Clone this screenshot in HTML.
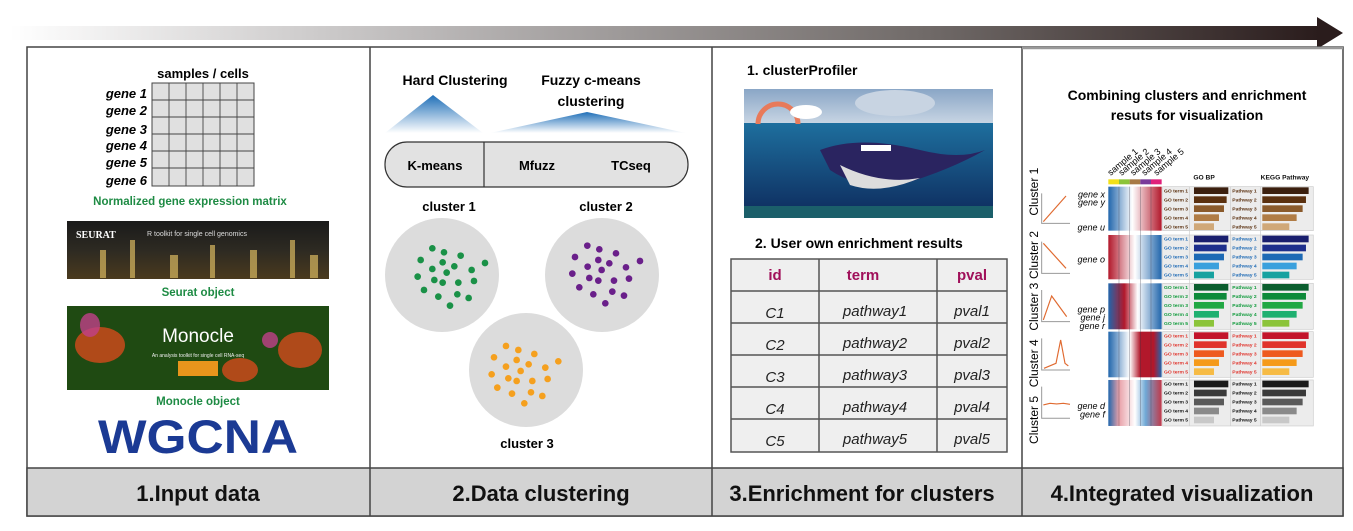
<!DOCTYPE html>
<html><head><meta charset="utf-8"><style>
html,body{margin:0;padding:0;background:#fff;}
svg{display:block;font-family:"Liberation Sans",Arial,sans-serif;}
</style></head><body>
<svg width="1353" height="531" viewBox="0 0 1353 531" xmlns="http://www.w3.org/2000/svg">
<defs>
<linearGradient id="arr" x1="0" x2="1" y1="0" y2="0"><stop offset="0" stop-color="#fff"/><stop offset="0.35" stop-color="#b4b1b1"/><stop offset="0.7" stop-color="#706a68"/><stop offset="1" stop-color="#2a1c1c"/></linearGradient>
<linearGradient id="tri" x1="0" x2="0" y1="0" y2="1"><stop offset="0" stop-color="#1f6fb8"/><stop offset="1" stop-color="#ffffff"/></linearGradient>
<linearGradient id="city" x1="0" x2="0" y1="0" y2="1"><stop offset="0" stop-color="#1a1a1a"/><stop offset="0.5" stop-color="#2d2a22"/><stop offset="1" stop-color="#4a3a1e"/></linearGradient>
<linearGradient id="sea" x1="0" x2="0" y1="0" y2="1"><stop offset="0" stop-color="#1e6f9e"/><stop offset="1" stop-color="#0d2a5c"/></linearGradient>
<linearGradient id="sky" x1="0" x2="0" y1="0" y2="1"><stop offset="0" stop-color="#8aa6c6"/><stop offset="1" stop-color="#c9d6e4"/></linearGradient>
<linearGradient id="h1" x1="0" x2="1"><stop offset="0" stop-color="#2166ac"/><stop offset="0.45" stop-color="#fff"/><stop offset="1" stop-color="#b2182b"/></linearGradient>
<linearGradient id="h2" x1="0" x2="1"><stop offset="0" stop-color="#b2182b"/><stop offset="0.5" stop-color="#fff"/><stop offset="1" stop-color="#2166ac"/></linearGradient>
<linearGradient id="h3" x1="0" x2="1"><stop offset="0" stop-color="#2166ac"/><stop offset="0.3" stop-color="#b2182b"/><stop offset="0.55" stop-color="#fff"/><stop offset="1" stop-color="#2166ac"/></linearGradient>
<linearGradient id="h4" x1="0" x2="1"><stop offset="0" stop-color="#2166ac"/><stop offset="0.4" stop-color="#fff"/><stop offset="0.6" stop-color="#b2182b"/><stop offset="0.85" stop-color="#b2182b"/><stop offset="1" stop-color="#2166ac"/></linearGradient>
<linearGradient id="h5" x1="0" x2="1"><stop offset="0" stop-color="#2166ac"/><stop offset="0.2" stop-color="#e8a0a8"/><stop offset="0.5" stop-color="#fff"/><stop offset="0.7" stop-color="#6fa8d6"/><stop offset="1" stop-color="#c0394a"/></linearGradient>
</defs>

<!-- top arrow -->
<rect x="10" y="26" width="1310" height="14" fill="url(#arr)"/>
<polygon points="1317,17 1343,33 1317,49" fill="#2a1c1c"/>

<!-- panels -->
<rect x="27" y="47" width="1316" height="469" fill="#fff" stroke="#444" stroke-width="1.5"/>
<rect x="27" y="468" width="1316" height="48" fill="#d3d3d3" stroke="#444" stroke-width="1.5"/>
<line x1="370" y1="47" x2="370" y2="516" stroke="#444" stroke-width="1.5"/>
<line x1="712" y1="47" x2="712" y2="516" stroke="#444" stroke-width="1.5"/>
<line x1="1022" y1="47" x2="1022" y2="516" stroke="#444" stroke-width="1.5"/>
<line x1="1022" y1="48" x2="1343" y2="48" stroke="#999" stroke-width="2.5"/>
<g font-size="22" font-weight="bold" text-anchor="middle" fill="#111">
<text x="198" y="501">1.Input data</text>
<text x="541" y="501">2.Data clustering</text>
<text x="862" y="501">3.Enrichment for clusters</text>
<text x="1182" y="501">4.Integrated visualization</text>
</g>

<!-- panel 1 -->
<text x="203" y="78" font-size="13" font-weight="bold" text-anchor="middle">samples / cells</text>
<rect x="152" y="83" width="102" height="103" fill="#e0e0e0" stroke="#444" stroke-width="1"/>
<g stroke="#444" stroke-width="0.9">
<line x1="169" y1="83" x2="169" y2="186"/><line x1="186" y1="83" x2="186" y2="186"/><line x1="203" y1="83" x2="203" y2="186"/><line x1="220" y1="83" x2="220" y2="186"/><line x1="237" y1="83" x2="237" y2="186"/>
<line x1="152" y1="100" x2="254" y2="100"/><line x1="152" y1="117" x2="254" y2="117"/><line x1="152" y1="134" x2="254" y2="134"/><line x1="152" y1="151" x2="254" y2="151"/><line x1="152" y1="168" x2="254" y2="168"/>
</g>
<g font-size="13" font-weight="bold" font-style="italic" text-anchor="end">
<text x="147" y="98">gene 1</text><text x="147" y="115">gene 2</text><text x="147" y="134">gene 3</text><text x="147" y="150">gene 4</text><text x="147" y="167">gene 5</text><text x="147" y="185">gene 6</text>
</g>
<text x="190" y="205" font-size="11.5" font-weight="bold" fill="#1e8b44" text-anchor="middle">Normalized gene expression matrix</text>
<rect x="67" y="221" width="262" height="58" fill="url(#city)"/>
<g fill="#d8b860" opacity="0.7"><rect x="100" y="250" width="6" height="28"/><rect x="130" y="240" width="5" height="38"/><rect x="170" y="255" width="8" height="23"/><rect x="210" y="245" width="5" height="33"/><rect x="250" y="250" width="7" height="28"/><rect x="290" y="240" width="5" height="38"/><rect x="310" y="255" width="8" height="23"/></g>
<text x="76" y="238" font-size="10" font-weight="bold" fill="#fff" font-family="Liberation Serif,serif">SEURAT</text>
<text x="147" y="236" font-size="7" fill="#ddd">R toolkit for single cell genomics</text>
<text x="198" y="296" font-size="11.5" font-weight="bold" fill="#1e8b44" text-anchor="middle">Seurat object</text>
<rect x="67" y="306" width="262" height="84" fill="#1f4a12"/>
<g fill="#d44a1c" opacity="0.8"><ellipse cx="100" cy="345" rx="25" ry="18"/><ellipse cx="300" cy="350" rx="22" ry="18"/><ellipse cx="240" cy="370" rx="18" ry="12"/></g>
<g fill="#c0408a" opacity="0.8"><ellipse cx="90" cy="325" rx="10" ry="12"/><ellipse cx="270" cy="340" rx="8" ry="8"/></g>
<text x="198" y="342" font-size="19" fill="#fff" text-anchor="middle">Monocle</text>
<text x="198" y="357" font-size="5" fill="#eee" text-anchor="middle">An analysis toolkit for single cell RNA-seq</text>
<rect x="178" y="361" width="40" height="15" fill="#e8951c"/>
<text x="198" y="405" font-size="11.5" font-weight="bold" fill="#1e8b44" text-anchor="middle">Monocle object</text>
<text x="198" y="453" font-size="47" font-weight="bold" fill="#1b3a94" text-anchor="middle" textLength="200" lengthAdjust="spacingAndGlyphs">WGCNA</text>

<!-- panel 2 -->
<g font-size="14" font-weight="bold" text-anchor="middle">
<text x="455" y="85">Hard Clustering</text>
<text x="591" y="85">Fuzzy c-means</text>
<text x="591" y="106">clustering</text>
</g>
<polygon points="433,95 385,133 483,133" fill="url(#tri)"/>
<polygon points="587,112 490,133 686,133" fill="url(#tri)"/>
<rect x="385" y="142" width="303" height="45" rx="22" fill="#e2e2e2" stroke="#333" stroke-width="1.2"/>
<line x1="484" y1="142" x2="484" y2="187" stroke="#333" stroke-width="1.2"/>
<g font-size="13" font-weight="bold" text-anchor="middle">
<text x="435" y="170">K-means</text><text x="537" y="170">Mfuzz</text><text x="631" y="170">TCseq</text>
<text x="449" y="211">cluster 1</text><text x="606" y="211">cluster 2</text><text x="527" y="448">cluster 3</text>
</g>
<circle cx="442" cy="275" r="57" fill="#dcdcdc"/>
<circle cx="602" cy="275" r="57" fill="#dcdcdc"/>
<circle cx="526" cy="370" r="57" fill="#dcdcdc"/>
<g transform="translate(370,60) scale(0.3333)">
<g fill="#1a9147">
<circle cx="187" cy="565" r="10"/><circle cx="222" cy="577" r="10"/><circle cx="272" cy="587" r="10"/><circle cx="152" cy="600" r="10"/><circle cx="218" cy="607" r="10"/><circle cx="345" cy="609" r="10"/><circle cx="187" cy="627" r="10"/><circle cx="253" cy="619" r="10"/><circle cx="305" cy="630" r="10"/><circle cx="230" cy="638" r="10"/><circle cx="143" cy="650" r="10"/><circle cx="193" cy="660" r="10"/><circle cx="218" cy="668" r="10"/><circle cx="265" cy="668" r="10"/><circle cx="312" cy="663" r="10"/><circle cx="162" cy="690" r="10"/><circle cx="262" cy="703" r="10"/><circle cx="205" cy="710" r="10"/><circle cx="296" cy="714" r="10"/><circle cx="240" cy="737" r="10"/>
</g>
<g fill="#6a1f8a">
<circle cx="652" cy="557" r="10"/><circle cx="688" cy="568" r="10"/><circle cx="738" cy="580" r="10"/><circle cx="615" cy="591" r="10"/><circle cx="685" cy="600" r="10"/><circle cx="718" cy="610" r="10"/><circle cx="810" cy="603" r="10"/><circle cx="653" cy="620" r="10"/><circle cx="695" cy="630" r="10"/><circle cx="768" cy="622" r="10"/><circle cx="607" cy="641" r="10"/><circle cx="658" cy="654" r="10"/><circle cx="685" cy="662" r="10"/><circle cx="732" cy="662" r="10"/><circle cx="777" cy="656" r="10"/><circle cx="628" cy="682" r="10"/><circle cx="670" cy="703" r="10"/><circle cx="727" cy="695" r="10"/><circle cx="762" cy="707" r="10"/><circle cx="706" cy="730" r="10"/>
</g>
<g fill="#f5a01e">
<circle cx="408" cy="858" r="10"/><circle cx="445" cy="870" r="10"/><circle cx="493" cy="882" r="10"/><circle cx="372" cy="892" r="10"/><circle cx="440" cy="900" r="10"/><circle cx="476" cy="913" r="10"/><circle cx="565" cy="904" r="10"/><circle cx="408" cy="920" r="10"/><circle cx="452" cy="933" r="10"/><circle cx="526" cy="923" r="10"/><circle cx="365" cy="943" r="10"/><circle cx="415" cy="955" r="10"/><circle cx="440" cy="963" r="10"/><circle cx="487" cy="963" r="10"/><circle cx="533" cy="957" r="10"/><circle cx="382" cy="983" r="10"/><circle cx="426" cy="1001" r="10"/><circle cx="483" cy="997" r="10"/><circle cx="517" cy="1008" r="10"/><circle cx="463" cy="1030" r="10"/>
</g>
</g>

<!-- panel 3 -->
<text x="747" y="75" font-size="14" font-weight="bold">1. clusterProfiler</text>
<rect x="744" y="89" width="249" height="35" fill="url(#sky)"/>
<rect x="744" y="123" width="249" height="95" fill="url(#sea)"/>
<path d="M758,124 A20,20 0 0 1 798,124" fill="none" stroke="#e87a5a" stroke-width="5"/>
<ellipse cx="806" cy="112" rx="16" ry="7" fill="#fff"/>
<ellipse cx="895" cy="103" rx="40" ry="13" fill="#c8d4e2"/>
<path d="M820,150 Q860,135 920,150 Q960,160 985,150 Q950,170 900,185 Q860,190 830,170 Z" fill="#2a2460"/>
<path d="M840,165 Q880,185 920,178 Q880,195 850,185 Z" fill="#ddd"/>
<rect x="861" y="145" width="30" height="6" fill="#fff"/>
<rect x="744" y="206" width="249" height="12" fill="#1b5f6a"/>
<text x="755" y="248" font-size="14" font-weight="bold">2. User own enrichment results</text>
<rect x="731" y="259" width="276" height="193" fill="#efefef" stroke="#555" stroke-width="1.5"/>
<g stroke="#555" stroke-width="1.5">
<line x1="819" y1="259" x2="819" y2="452"/><line x1="937" y1="259" x2="937" y2="452"/>
<line x1="731" y1="291" x2="1007" y2="291"/><line x1="731" y1="323" x2="1007" y2="323"/><line x1="731" y1="355" x2="1007" y2="355"/><line x1="731" y1="387" x2="1007" y2="387"/><line x1="731" y1="419" x2="1007" y2="419"/>
</g>
<g font-size="15" font-weight="bold" fill="#a0105a" text-anchor="middle">
<text x="775" y="280">id</text><text x="863" y="280">term</text><text x="972" y="280">pval</text>
</g>
<g font-size="15" font-style="italic" text-anchor="middle" fill="#222">
<text x="775" y="318">C1</text><text x="875" y="316">pathway1</text><text x="972" y="316">pval1</text>
<text x="775" y="350">C2</text><text x="875" y="348">pathway2</text><text x="972" y="348">pval2</text>
<text x="775" y="382">C3</text><text x="875" y="380">pathway3</text><text x="972" y="380">pval3</text>
<text x="775" y="414">C4</text><text x="875" y="412">pathway4</text><text x="972" y="412">pval4</text>
<text x="775" y="446">C5</text><text x="875" y="444">pathway5</text><text x="972" y="444">pval5</text>
</g>

<!-- panel 4 -->
<g font-size="14" font-weight="bold" text-anchor="middle">
<text x="1187" y="100">Combining clusters and enrichment</text>
<text x="1187" y="120">resuts for visualization</text>
</g>
<g transform="translate(1020,140) scale(0.3333)">
<g font-size="27" font-style="italic" transform="rotate(-38 340 110)">
</g>
<g font-size="27">
<text transform="translate(272,108) rotate(-40)">sample 1</text>
<text transform="translate(305,108) rotate(-40)">sample 2</text>
<text transform="translate(340,108) rotate(-40)">sample 3</text>
<text transform="translate(374,108) rotate(-40)">sample 4</text>
<text transform="translate(410,108) rotate(-40)">sample 5</text>
</g>
<rect x="265" y="118" width="32" height="15" fill="#f2e01a"/><rect x="297" y="118" width="32" height="15" fill="#8cc43a"/><rect x="329" y="118" width="32" height="15" fill="#a87a45"/><rect x="361" y="118" width="32" height="15" fill="#7a3a9a"/><rect x="393" y="118" width="32" height="15" fill="#e0207a"/>
<g font-size="20" font-weight="bold" fill="#111"><text x="520" y="118">GO BP</text><text x="722" y="118">KEGG Pathway</text></g>
<!-- heatmaps -->
<rect x="265" y="140" width="160" height="132" fill="url(#h1)"/>
<rect x="265" y="285" width="160" height="133" fill="url(#h2)"/>
<rect x="265" y="430" width="160" height="138" fill="url(#h3)"/>
<rect x="265" y="575" width="160" height="137" fill="url(#h4)"/>
<rect x="265" y="720" width="160" height="138" fill="url(#h5)"/>
<g stroke="#334" stroke-width="1.5" opacity="0.6">
<line x1="297" y1="140" x2="297" y2="858"/><line x1="329" y1="140" x2="329" y2="858"/><line x1="361" y1="140" x2="361" y2="858"/><line x1="393" y1="140" x2="393" y2="858"/>
</g>
<!-- bar panels backgrounds -->
<g fill="#ececec" stroke="#ccc" stroke-width="2">
<rect x="428" y="140" width="452" height="132"/><rect x="428" y="285" width="452" height="133"/><rect x="428" y="430" width="452" height="138"/><rect x="428" y="575" width="452" height="137"/><rect x="428" y="720" width="452" height="138"/>
</g>
<g stroke="#ccc" stroke-width="2">
<line x1="508" y1="140" x2="508" y2="858"/><line x1="632" y1="140" x2="632" y2="858"/><line x1="722" y1="140" x2="722" y2="858"/>
</g>
<!-- block 1 -->
<g font-size="15" font-weight="bold" fill="#5a300f">
<text x="432" y="157">GO term 1</text><text x="432" y="184">GO term 2</text><text x="432" y="211">GO term 3</text><text x="432" y="238">GO term 4</text><text x="432" y="265">GO term 5</text>
<text x="637" y="157">Pathway 1</text><text x="637" y="184">Pathway 2</text><text x="637" y="211">Pathway 3</text><text x="637" y="238">Pathway 4</text><text x="637" y="265">Pathway 5</text>
</g>
<rect x="522" y="142" width="103" height="20" fill="#3b1f0e"/><rect x="522" y="169" width="98" height="20" fill="#5a300f"/><rect x="522" y="196" width="90" height="20" fill="#8a5a2b"/><rect x="522" y="223" width="75" height="20" fill="#b07c45"/><rect x="522" y="250" width="60" height="20" fill="#d0a878"/>
<rect x="727" y="142" width="139" height="20" fill="#3b1f0e"/><rect x="727" y="169" width="131" height="20" fill="#5a300f"/><rect x="727" y="196" width="121" height="20" fill="#8a5a2b"/><rect x="727" y="223" width="103" height="20" fill="#b07c45"/><rect x="727" y="250" width="81" height="20" fill="#d0a878"/>
<!-- block 2 -->
<g font-size="15" font-weight="bold" fill="#1e6ab5">
<text x="432" y="302">GO term 1</text><text x="432" y="329">GO term 2</text><text x="432" y="356">GO term 3</text><text x="432" y="383">GO term 4</text><text x="432" y="410">GO term 5</text>
<text x="637" y="302">Pathway 1</text><text x="637" y="329">Pathway 2</text><text x="637" y="356">Pathway 3</text><text x="637" y="383">Pathway 4</text><text x="637" y="410">Pathway 5</text>
</g>
<rect x="522" y="287" width="103" height="20" fill="#1a1f6e"/><rect x="522" y="314" width="98" height="20" fill="#1e2f8c"/><rect x="522" y="341" width="90" height="20" fill="#1e6ab5"/><rect x="522" y="368" width="75" height="20" fill="#3aa0dd"/><rect x="522" y="395" width="60" height="20" fill="#17a2a0"/>
<rect x="727" y="287" width="139" height="20" fill="#1a1f6e"/><rect x="727" y="314" width="131" height="20" fill="#1e2f8c"/><rect x="727" y="341" width="121" height="20" fill="#1e6ab5"/><rect x="727" y="368" width="103" height="20" fill="#3aa0dd"/><rect x="727" y="395" width="81" height="20" fill="#17a2a0"/>
<!-- block 3 -->
<g font-size="15" font-weight="bold" fill="#0e9a3a">
<text x="432" y="447">GO term 1</text><text x="432" y="474">GO term 2</text><text x="432" y="501">GO term 3</text><text x="432" y="528">GO term 4</text><text x="432" y="555">GO term 5</text>
<text x="637" y="447">Pathway 1</text><text x="637" y="474">Pathway 2</text><text x="637" y="501">Pathway 3</text><text x="637" y="528">Pathway 4</text><text x="637" y="555">Pathway 5</text>
</g>
<rect x="522" y="432" width="103" height="20" fill="#0b5e2e"/><rect x="522" y="459" width="98" height="20" fill="#0e8a3a"/><rect x="522" y="486" width="90" height="20" fill="#22a844"/><rect x="522" y="513" width="75" height="20" fill="#1fb070"/><rect x="522" y="540" width="60" height="20" fill="#8cc43a"/>
<rect x="727" y="432" width="139" height="20" fill="#0b5e2e"/><rect x="727" y="459" width="131" height="20" fill="#0e8a3a"/><rect x="727" y="486" width="121" height="20" fill="#22a844"/><rect x="727" y="513" width="103" height="20" fill="#1fb070"/><rect x="727" y="540" width="81" height="20" fill="#8cc43a"/>
<!-- block 4 -->
<g font-size="15" font-weight="bold" fill="#e0332b">
<text x="432" y="592">GO term 1</text><text x="432" y="619">GO term 2</text><text x="432" y="646">GO term 3</text><text x="432" y="673">GO term 4</text><text x="432" y="700">GO term 5</text>
<text x="637" y="592">Pathway 1</text><text x="637" y="619">Pathway 2</text><text x="637" y="646">Pathway 3</text><text x="637" y="673">Pathway 4</text><text x="637" y="700">Pathway 5</text>
</g>
<rect x="522" y="577" width="103" height="20" fill="#c3142b"/><rect x="522" y="604" width="98" height="20" fill="#e0332b"/><rect x="522" y="631" width="90" height="20" fill="#ee5a1f"/><rect x="522" y="658" width="75" height="20" fill="#f59a1a"/><rect x="522" y="685" width="60" height="20" fill="#f6bb45"/>
<rect x="727" y="577" width="139" height="20" fill="#c3142b"/><rect x="727" y="604" width="131" height="20" fill="#e0332b"/><rect x="727" y="631" width="121" height="20" fill="#ee5a1f"/><rect x="727" y="658" width="103" height="20" fill="#f59a1a"/><rect x="727" y="685" width="81" height="20" fill="#f6bb45"/>
<!-- block 5 -->
<g font-size="15" font-weight="bold" fill="#111">
<text x="432" y="737">GO term 1</text><text x="432" y="764">GO term 2</text><text x="432" y="791">GO term 3</text><text x="432" y="818">GO term 4</text><text x="432" y="845">GO term 5</text>
<text x="637" y="737">Pathway 1</text><text x="637" y="764">Pathway 2</text><text x="637" y="791">Pathway 3</text><text x="637" y="818">Pathway 4</text><text x="637" y="845">Pathway 5</text>
</g>
<rect x="522" y="722" width="103" height="20" fill="#1a1a1a"/><rect x="522" y="749" width="98" height="20" fill="#3a3a3a"/><rect x="522" y="776" width="90" height="20" fill="#5a5a5a"/><rect x="522" y="803" width="75" height="20" fill="#8a8a8a"/><rect x="522" y="830" width="60" height="20" fill="#c8c8c8"/>
<rect x="727" y="722" width="139" height="20" fill="#1a1a1a"/><rect x="727" y="749" width="131" height="20" fill="#3a3a3a"/><rect x="727" y="776" width="121" height="20" fill="#5a5a5a"/><rect x="727" y="803" width="103" height="20" fill="#8a8a8a"/><rect x="727" y="830" width="81" height="20" fill="#c8c8c8"/>
<!-- cluster labels -->
<g font-size="36" text-anchor="middle">
<text transform="translate(54,155) rotate(-90)">Cluster 1</text>
<text transform="translate(54,345) rotate(-90)">Cluster 2</text>
<text transform="translate(54,500) rotate(-90)">Cluster 3</text>
<text transform="translate(54,670) rotate(-90)">Cluster 4</text>
<text transform="translate(54,840) rotate(-90)">Cluster 5</text>
</g>
<g fill="none" stroke="#999" stroke-width="3">
<path d="M65,160 V250 H150"/><path d="M65,305 V400 H150"/><path d="M65,450 V545 H150"/><path d="M65,595 V690 H150"/><path d="M65,740 V835 H150"/>
</g>
<g fill="none" stroke="#e06a30" stroke-width="3.5">
<path d="M70,245 L138,168"/>
<path d="M70,310 L138,385"/>
<path d="M70,540 L95,468 L140,530"/>
<path d="M72,685 L108,670 L122,600 L135,670 L145,678"/>
<path d="M70,795 L90,790 L110,792 L130,790 L150,793"/>
</g>
<g font-size="27" font-style="italic" text-anchor="end">
<text x="255" y="172">gene x</text><text x="255" y="197">gene y</text><text x="255" y="272">gene u</text><text x="255" y="367">gene o</text>
<text x="255" y="517">gene p</text><text x="255" y="542">gene j</text><text x="255" y="567">gene r</text>
<text x="255" y="807">gene d</text><text x="255" y="832">gene f</text>
</g>
</g>
</svg>
</body></html>
